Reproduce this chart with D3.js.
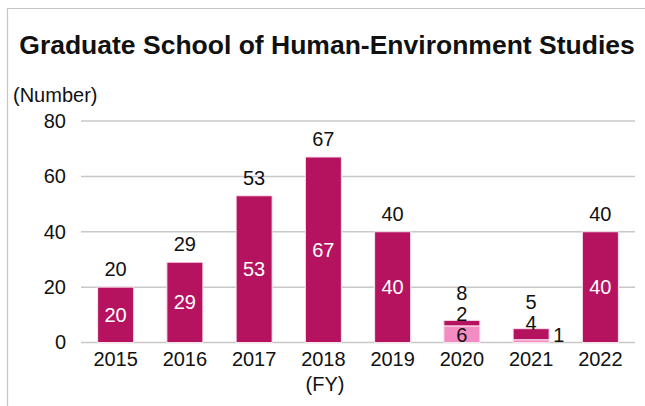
<!DOCTYPE html>
<html>
<head>
<meta charset="utf-8">
<script src="https://cdn.jsdelivr.net/npm/d3@7"></script>
<style>
  body { margin: 0; background: #fff; }
  svg text { font-family: "Liberation Sans", Arial, sans-serif; }
</style>
</head>
<body>
<svg id="chart" width="645" height="406"></svg>
<script>
// data
var years = ["2015", "2016", "2017", "2018", "2019", "2020", "2021", "2022"];
var lightValues = [0, 0, 0, 0, 0, 6, 1, 0];
var darkValues = [20, 29, 53, 67, 40, 2, 4, 40];
var yTicks = [0, 20, 40, 60, 80];

var W = 645, H = 406;
var plot = { left: 81, right: 635, top: 121, bottom: 342.5 };
var fs = 20;

var svg = d3.select("#chart");

// outer frame (only top and left edges are visible)
svg.append("path")
  .attr("d", "M7.5," + H + " L7.5,8.5 L" + W + ",8.5")
  .attr("fill", "none")
  .attr("stroke", "#c4c4c4")
  .attr("stroke-width", 1.2);

svg.append("text")
  .attr("x", 327)
  .attr("y", 54)
  .attr("text-anchor", "middle")
  .attr("font-size", 26.5)
  .attr("font-weight", "bold")
  .attr("fill", "#111")
  .text("Graduate School of Human-Environment Studies");

var x = d3.scaleBand().domain(years).range([plot.left, plot.right]).paddingInner(0.48).paddingOuter(0.24);
var y = d3.scaleLinear().domain([0, 80]).range([plot.bottom, plot.top]);

// grid lines
svg.append("g")
  .selectAll("line")
  .data(yTicks)
  .enter()
  .append("line")
  .attr("x1", plot.left)
  .attr("x2", plot.right)
  .attr("y1", function (d) { return y(d); })
  .attr("y2", function (d) { return y(d); })
  .attr("stroke", "#c8c8c8")
  .attr("stroke-width", 1.5);

// y axis labels
var yAxis = svg.append("g")
  .attr("transform", "translate(" + (plot.left - 15) + ",0)")
  .call(d3.axisLeft(y).tickValues(yTicks).tickSize(0).tickPadding(0));
yAxis.select(".domain").remove();
yAxis.selectAll("text")
  .attr("font-size", fs)
  .attr("fill", "#111")
  .style("font-family", "'Liberation Sans', Arial, sans-serif");

// x axis labels
var xAxis = svg.append("g")
  .attr("transform", "translate(0," + plot.bottom + ")")
  .call(d3.axisBottom(x).tickSize(0).tickPadding(9));
xAxis.select(".domain").remove();
xAxis.selectAll("text")
  .attr("font-size", fs)
  .attr("fill", "#111")
  .style("font-family", "'Liberation Sans', Arial, sans-serif");

svg.append("text")
  .attr("x", 13)
  .attr("y", 102)
  .attr("font-size", fs)
  .attr("fill", "#111")
  .text("(Number)");

svg.append("text")
  .attr("x", 325)
  .attr("y", 391)
  .attr("text-anchor", "middle")
  .attr("font-size", fs)
  .attr("fill", "#111")
  .text("(FY)");

// stacked bars: light series at the bottom, dark on top
var rows = years.map(function (d, i) {
  return { year: d, light: lightValues[i], dark: darkValues[i] };
});
var stack = d3.stack().keys(["light", "dark"])(rows);
var colors = { light: "#f38cc3", dark: "#b5135f" };

var bars = svg.append("g");
stack.forEach(function (layer) {
  bars.selectAll(null)
    .data(layer.filter(function (d) { return d[1] > d[0]; }))
    .enter()
    .append("rect")
    .attr("x", function (d) { return x(d.data.year); })
    .attr("width", x.bandwidth())
    .attr("y", function (d) { return y(d[1]); })
    .attr("height", function (d) { return y(d[0]) - y(d[1]); })
    .attr("fill", colors[layer.key])
    .attr("stroke", "#fbe3ee")
    .attr("stroke-width", 1);
});

var labels = svg.append("g")
  .attr("font-size", fs)
  .attr("text-anchor", "middle");

function cx(d) { return x(d.year) + x.bandwidth() / 2; }

// totals above the bars (lifted higher when the dark label sits above the bar)
labels.selectAll(null)
  .data(rows)
  .enter()
  .append("text")
  .attr("x", cx)
  .attr("y", function (d) {
    var top = y(d.light + d.dark);
    return d.dark >= 10 ? top - 11 : top - 20;
  })
  .attr("fill", "#111")
  .text(function (d) { return d.light + d.dark; });

// dark series labels: white inside when the bar is tall, black on top otherwise
labels.selectAll(null)
  .data(rows)
  .enter()
  .append("text")
  .attr("x", cx)
  .attr("y", function (d) {
    var top = y(d.light + d.dark);
    if (d.dark >= 10) return (top + y(d.light)) / 2 + 7;
    return top + 1;
  })
  .attr("fill", function (d) { return d.dark >= 10 ? "#fff" : "#111"; })
  .text(function (d) { return d.dark; });

// light series labels
labels.selectAll(null)
  .data(rows.filter(function (d) { return d.light > 0; }))
  .enter()
  .append("text")
  .attr("x", function (d) {
    return d.light < 3 ? x(d.year) + x.bandwidth() + 4 : cx(d);
  })
  .attr("y", y(0) - 0.5)
  .attr("text-anchor", function (d) { return d.light < 3 ? "start" : "middle"; })
  .attr("fill", "#111")
  .text(function (d) { return d.light; });
</script>
</body>
</html>
